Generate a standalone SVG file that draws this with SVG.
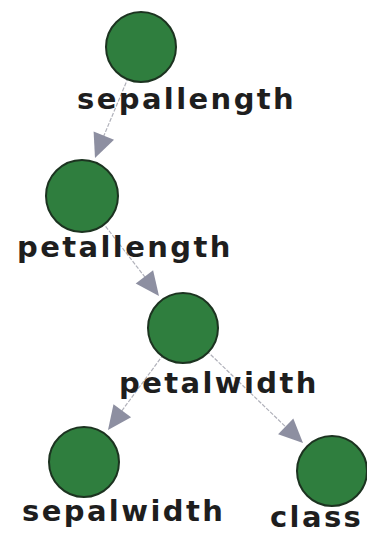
<svg xmlns="http://www.w3.org/2000/svg" width="367" height="537" viewBox="0 0 367 537">
  <style>
    .node circle { fill: #2f7e3e; stroke: #1c3320; stroke-width: 2; }
    .node text { font-family: "DejaVu Sans", Verdana, sans-serif; font-weight: bold; font-size: 29px; letter-spacing: 2.4px; fill: #1e1e1e; }
    .edge line { stroke: #b0b1ba; stroke-width: 1.2; stroke-dasharray: 4 1.5; }
    .edge polygon { fill: #8d8fa1; }
  </style>
  <rect width="367" height="537" fill="#ffffff"/>

  <!-- directed edges, centre to centre, arrowheads stop at the target rim -->
  <g id="edges" class="edge">
    <line x1="141" y1="47" x2="100" y2="145"/>
    <polygon points="95,158 114,139.7 93.6,131.6"/>
    <line x1="82" y1="196" x2="148" y2="281"/>
    <polygon points="159,296 153.1,270.2 135.7,283.6"/>
    <line x1="183" y1="328" x2="118" y2="416"/>
    <polygon points="108,430 131.1,417.2 113.5,404.2"/>
    <line x1="183" y1="328" x2="290" y2="431"/>
    <polygon points="303,443 293.3,418.5 278.1,434.3"/>
  </g>

  <g id="node-sepallength" class="node">
    <circle cx="141" cy="47" r="35"/>
    <text x="77" y="109">sepallength</text>
  </g>
  <g id="node-petallength" class="node">
    <circle cx="82" cy="196" r="36"/>
    <text x="17" y="257">petallength</text>
  </g>
  <g id="node-petalwidth" class="node">
    <circle cx="183" cy="328" r="35"/>
    <text x="119" y="393">petalwidth</text>
  </g>
  <g id="node-sepalwidth" class="node">
    <circle cx="84" cy="462" r="35"/>
    <text x="22" y="521">sepalwidth</text>
  </g>
  <g id="node-class" class="node">
    <circle cx="332" cy="471" r="35"/>
    <text x="270" y="527">class</text>
  </g>
</svg>
